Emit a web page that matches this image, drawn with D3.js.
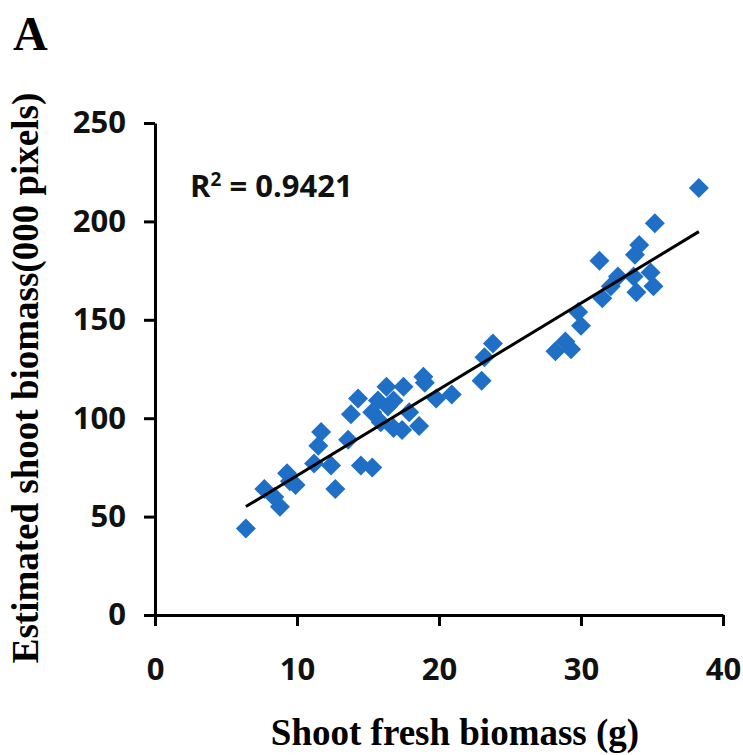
<!DOCTYPE html>
<html>
<head>
<meta charset="utf-8">
<script src="https://cdn.jsdelivr.net/npm/d3@7"></script>
<style>
  html, body { margin: 0; padding: 0; background: #fff; }
  svg { display: block; }
</style>
</head>
<body>
<div id="chart"></div>
<script>
// ---- data ----
const panelLabel = "A";
const xTitle = "Shoot fresh biomass (g)";
const yTitle = "Estimated shoot biomass(000 pixels)";
const xTicks = [0, 10, 20, 30, 40];
const yTicks = [0, 50, 100, 150, 200, 250];
const r2Text = "0.9421";

const freshBiomass = [6.4, 7.7, 8.4, 8.8, 9.3, 9.5, 9.9, 11.2, 11.5, 11.7, 12.4, 12.7,
  13.6, 13.8, 14.3, 14.5, 15.3, 15.3, 15.7, 15.9, 16.3, 16.4, 16.8, 16.8, 17.4, 17.5,
  17.9, 18.6, 18.9, 19.0, 19.8, 20.9, 23.0, 23.2, 23.8, 28.2, 28.9, 29.3, 29.8, 30.0,
  31.3, 31.5, 32.1, 32.6, 33.7, 33.8, 33.9, 34.1, 34.9, 35.1, 35.2, 38.3];
const estimatedBiomass = [44, 64, 60, 55, 72, 68, 66, 77, 86, 93, 76, 64,
  89, 102, 110, 76, 75, 103, 109, 98, 116, 106, 109, 95, 94, 116,
  103, 96, 121, 118, 110, 112, 119, 131, 138, 134, 139, 135, 154, 147,
  180, 161, 167, 172, 172, 183, 164, 188, 174, 167, 199, 217];

// ---- layout ----
const W = 743, H = 755;
const svg = d3.select("#chart").append("svg").attr("width", W).attr("height", H);

const x = d3.scaleLinear().domain([0, 40]).range([155, 723]);
const y = d3.scaleLinear().domain([0, 250]).range([615, 123]);

const tickFont = "'Open Sans', 'Liberation Sans', Arial, sans-serif";
const serif = "'Liberation Serif', 'Times New Roman', serif";

// axes
const xAxis = svg.append("g").attr("transform", `translate(0,${y(0)})`)
  .call(d3.axisBottom(x).tickValues(xTicks).tickSize(11).tickSizeOuter(0).tickPadding(32));
const yAxis = svg.append("g").attr("transform", `translate(${x(0)},0)`)
  .call(d3.axisLeft(y).tickValues(yTicks).tickSize(11).tickSizeOuter(0).tickPadding(18));

[xAxis, yAxis].forEach(g => {
  g.select(".domain").attr("stroke", "#000").attr("stroke-width", 3);
  g.selectAll(".tick line").attr("stroke", "#000").attr("stroke-width", 3);
  g.selectAll(".tick text")
    .attr("fill", "#111")
    .style("font-family", tickFont)
    .style("font-weight", "700")
    .style("font-size", "31px");
});

// points
const pts = freshBiomass.map((v, i) => ({ x: v, y: estimatedBiomass[i] }));
svg.append("g").selectAll("path")
  .data(pts).join("path")
  .attr("d", d3.symbol().type(d3.symbolSquare).size(200))
  .attr("transform", d => `translate(${x(d.x)},${y(d.y)}) rotate(45)`)
  .attr("fill", "#1f6fc6");

// linear trendline (least squares of the data)
const mx = d3.mean(pts, d => d.x), my = d3.mean(pts, d => d.y);
const slope = d3.sum(pts, d => (d.x - mx) * (d.y - my)) / d3.sum(pts, d => (d.x - mx) ** 2);
const icpt = my - slope * mx;
const [x0, x1] = d3.extent(pts, d => d.x);
svg.append("line")
  .attr("x1", x(x0)).attr("y1", y(icpt + slope * x0))
  .attr("x2", x(x1)).attr("y2", y(icpt + slope * x1))
  .attr("stroke", "#000").attr("stroke-width", 3);

// R² label
const r2 = svg.append("text")
  .attr("x", 190).attr("y", 197)
  .style("font-family", tickFont).style("font-weight", "700").style("font-size", "31px")
  .attr("fill", "#111");
r2.append("tspan").text("R");
r2.append("tspan").text("2").attr("dy", -11).style("font-size", "19px");
r2.append("tspan").text(" = " + r2Text).attr("dy", 11);

// panel label
svg.append("text").attr("x", 13).attr("y", 50)
  .style("font-family", serif).style("font-weight", "700").style("font-size", "48px")
  .text(panelLabel);

// axis titles
svg.append("text")
  .attr("x", 455).attr("y", 745).attr("text-anchor", "middle")
  .style("font-family", serif).style("font-weight", "700").style("font-size", "37px")
  .text(xTitle);
svg.append("text")
  .attr("transform", "translate(38,378) rotate(-90)").attr("text-anchor", "middle")
  .style("font-family", serif).style("font-weight", "700").style("font-size", "37px")
  .text(yTitle);
</script>
</body>
</html>
